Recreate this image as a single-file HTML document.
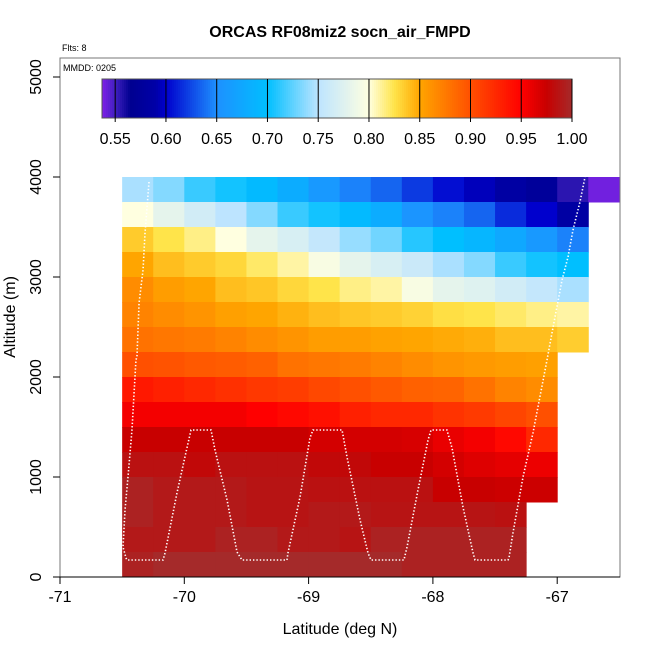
<!DOCTYPE html>
<html><head><meta charset="utf-8"><style>
body{margin:0;background:#fff}svg{display:block}
text{font-family:"Liberation Sans",sans-serif;fill:#000}
</style></head><body>
<svg id="c" width="650" height="650" viewBox="0 0 650 650">
<text x="340" y="37" font-size="16" font-weight="bold" text-anchor="middle">ORCAS RF08miz2 socn_air_FMPD</text>
<text x="62" y="51" font-size="9">Flts: 8</text>
<g id="cells"></g>
<polyline id="track" fill="none" stroke="#fff" stroke-width="1.6" stroke-dasharray="1.4 2"/>
<rect x="60" y="58" width="560" height="519" fill="none" stroke="#777" stroke-width="1"/>
<text x="63" y="71" font-size="9">MMDD: 0205</text>
<g id="cbar"></g>
<g id="axes"></g>
<text x="340" y="634" font-size="16" text-anchor="middle">Latitude (deg N)</text>
<text x="0" y="0" font-size="16" text-anchor="middle" transform="translate(15,317) rotate(-90)">Altitude (m)</text>
</svg>
<script>
const latStarts=[-70.5,-70.25,-70,-69.75,-69.5,-69.25,-69,-68.75,-68.5,-68.25,-68,-67.75,-67.5,-67.25,-67,-66.75];
const altStarts=[3750,3500,3250,3000,2750,2500,2250,2000,1750,1500,1250,1000,750,500,250,0];
const values=[
[0.745,0.735,0.715,0.705,0.695,0.68,0.66,0.645,0.635,0.62,0.605,0.595,0.585,0.575,0.555,0.54],
[0.80,0.78,0.765,0.75,0.735,0.715,0.705,0.695,0.68,0.655,0.645,0.635,0.615,0.60,0.585],
[0.835,0.825,0.815,0.80,0.78,0.77,0.755,0.74,0.73,0.71,0.70,0.69,0.675,0.66,0.645],
[0.85,0.84,0.835,0.83,0.82,0.81,0.795,0.78,0.77,0.76,0.745,0.735,0.715,0.705,0.70],
[0.865,0.855,0.85,0.84,0.837,0.83,0.825,0.815,0.81,0.795,0.78,0.775,0.765,0.755,0.745],
[0.87,0.865,0.86,0.853,0.85,0.845,0.84,0.837,0.835,0.832,0.827,0.825,0.82,0.815,0.81],
[0.88,0.877,0.875,0.87,0.865,0.86,0.855,0.855,0.852,0.85,0.848,0.846,0.84,0.84,0.834],
[0.90,0.898,0.895,0.893,0.89,0.88,0.877,0.875,0.87,0.865,0.86,0.857,0.855,0.853],
[0.935,0.93,0.925,0.92,0.915,0.912,0.905,0.90,0.895,0.89,0.888,0.88,0.87,0.865],
[0.955,0.955,0.955,0.955,0.95,0.945,0.94,0.93,0.925,0.925,0.918,0.914,0.907,0.90],
[0.975,0.975,0.975,0.975,0.975,0.975,0.97,0.97,0.97,0.968,0.96,0.955,0.945,0.925],
[0.985,0.985,0.98,0.985,0.985,0.985,0.98,0.98,0.975,0.975,0.97,0.965,0.962,0.958],
[0.995,0.99,0.99,0.99,0.987,0.987,0.985,0.985,0.985,0.985,0.975,0.975,0.973,0.973],
[0.995,0.99,0.99,0.99,0.987,0.987,0.99,0.99,0.987,0.987,0.987,0.987,0.985],
[0.99,0.99,0.99,0.995,0.995,0.99,0.99,0.987,0.995,0.995,0.995,0.995,0.995],
[0.995,1.0,1.0,1.0,1.0,1.0,1.0,1.0,1.0,0.995,0.995,0.995,0.995]];
const trackLat=[-70.284,-70.316,-70.332,-70.364,-70.381,-70.389,-70.421,-70.453,-70.477,-70.493,-70.469,-70.461,-70.171,-70.155,-70.059,-69.986,-69.946,-69.785,-69.753,-69.656,-69.576,-69.536,-69.174,-69.166,-69.069,-68.989,-68.965,-68.731,-68.691,-68.586,-68.522,-68.498,-68.233,-68.208,-68.120,-68.039,-68.015,-67.887,-67.846,-67.758,-67.677,-67.661,-67.396,-67.388,-67.356,-67.275,-67.195,-67.082,-67.042,-66.961,-66.913,-66.873,-66.817,-66.776];
const trackAlt=[3950,3440,3070,2740,2200,2170,1470,1000,670,300,190,170,170,240,840,1250,1470,1470,1270,770,250,170,170,240,800,1390,1470,1470,1200,570,240,170,170,300,870,1370,1470,1470,1290,700,240,170,170,190,440,1000,1440,2170,2440,2970,3200,3470,3750,4000];
const xTicks=[-71,-70,-69,-68,-67];
const yTicks=[0,1000,2000,3000,4000,5000];
const cbTicks=[0.55,0.60,0.65,0.70,0.75,0.80,0.85,0.90,0.95,1.00];
const stops=[[0.537,'#8020e8'],[0.55,'#4020c0'],[0.565,'#000090'],[0.59,'#0000a8'],[0.60,'#0000cd'],[0.65,'#1e90ff'],[0.70,'#00bfff'],[0.75,'#bde4ff'],[0.80,'#ffffe0'],[0.825,'#ffe44a'],[0.85,'#ffa500'],[0.90,'#ff5000'],[0.95,'#ff0000'],[0.975,'#c80000'],[1.0,'#a52a2a']];
const NS='http://www.w3.org/2000/svg';
const X=v=>60+(v+71)*124.3, Y=v=>577-v*0.1;
function hx(h){return [1,3,5].map(i=>parseInt(h.substr(i,2),16));}
function col(v){
  if(v<=stops[0][0])return stops[0][1];
  for(let i=1;i<stops.length;i++){if(v<=stops[i][0]){const a=stops[i-1],b=stops[i],t=(v-a[0])/(b[0]-a[0]);const ca=hx(a[1]),cb=hx(b[1]);return 'rgb('+ca.map((c,k)=>Math.round(c+(cb[k]-c)*t)).join(',')+')';}}
  return stops[stops.length-1][1];
}
function mk(t,a,p){const e=document.createElementNS(NS,t);for(const k in a)e.setAttribute(k,a[k]);p.appendChild(e);return e;}
const cells=document.getElementById('cells');
values.forEach((row,r)=>row.forEach((v,c)=>{
  const x0=X(latStarts[c]),x1=X(latStarts[c]+0.25),y0=Y(altStarts[r]+250),y1=Y(altStarts[r]);
  const e=mk('rect',{x:x0,y:y0,width:x1-x0+0.5,height:y1-y0+0.5,fill:col(v)},cells);
  
  
}));
document.getElementById('track').setAttribute('points',trackLat.map((l,i)=>X(l)+','+Y(trackAlt[i])).join(' '));
// colorbar
const cb=document.getElementById('cbar');
const cx0=102,cx1=572,cv0=0.537,cv1=1.0,CX=v=>cx0+(v-cv0)/(cv1-cv0)*(cx1-cx0);
for(let x=cx0;x<cx1;x+=2){const e=mk('rect',{x:x,y:79,width:2.3,height:39,fill:col(cv0+(x+1-cx0)/(cx1-cx0)*(cv1-cv0))},cb);}
mk('rect',{x:cx0,y:79,width:cx1-cx0,height:39,fill:'none',stroke:'#555','stroke-width':1},cb);
cbTicks.forEach(t=>{const x=CX(t);mk('line',{x1:x,x2:x,y1:79,y2:122,stroke:'#000','stroke-width':1},cb);
  const e=mk('text',{x:x,y:144,'font-size':16,'text-anchor':'middle'},cb);e.textContent=t.toFixed(2);
  });
// axes
const ax=document.getElementById('axes');
mk('line',{x1:60,x2:620,y1:577,y2:577,stroke:'#000'},ax);
xTicks.forEach(t=>{const x=X(t);mk('line',{x1:x,x2:x,y1:577,y2:584,stroke:'#000'},ax);
  const e=mk('text',{x:x,y:602,'font-size':16,'text-anchor':'middle'},ax);e.textContent=String(t);
  });
yTicks.forEach(t=>{const y=Y(t);mk('line',{x1:53,x2:60,y1:y,y2:y,stroke:'#000'},ax);
  const e=mk('text',{x:0,y:0,'font-size':16,'text-anchor':'middle',transform:'translate(41,'+y+') rotate(-90)'},ax);e.textContent=String(t);
  });
</script>
</body></html>
